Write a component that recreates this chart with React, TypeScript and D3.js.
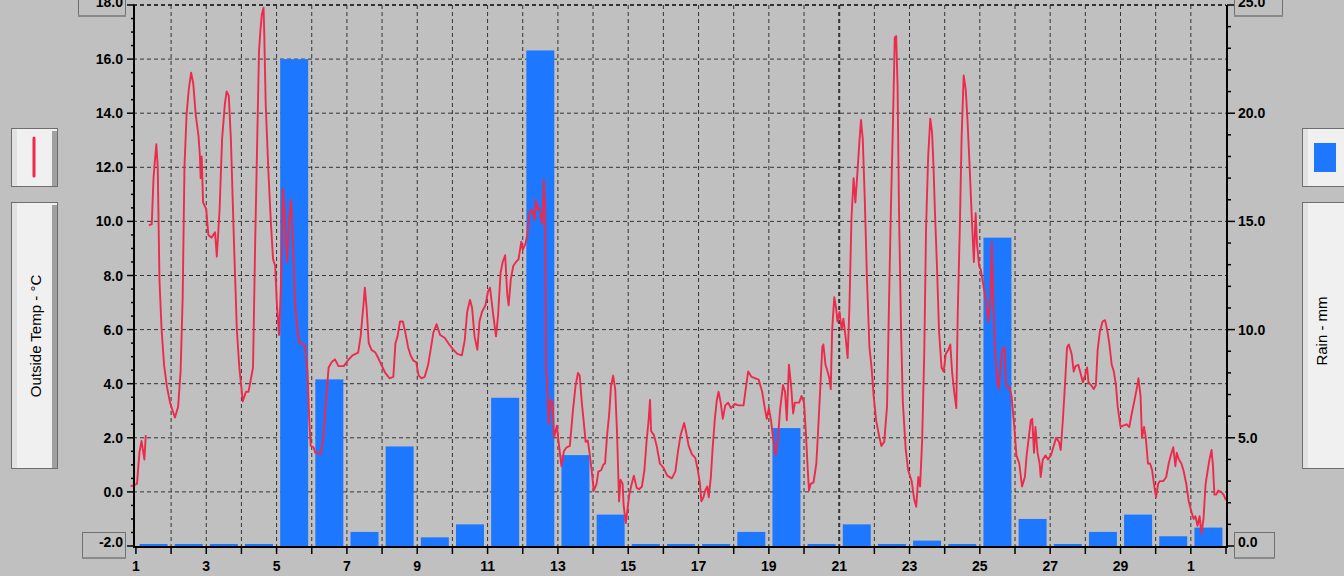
import React from "react";
import * as d3 from "d3";

// outside temperature, [day of November (fractional), °C]; null = gap in the log
const TEMP: [number, number | null][] = [
  [0.85, 0.2], [1.03, 0.3], [1.1, 1.46], [1.16, 1.88], [1.24, 1.2], [1.28, 2.1], [1.33, null],
  [1.37, 9.85], [1.45, 9.9], [1.5, 11.6], [1.54, 12.25], [1.58, 12.85], [1.62, 12.0], [1.67, 7.8],
  [1.73, 6.0], [1.8, 4.7], [1.88, 3.9], [1.97, 3.3], [2.07, 2.9], [2.11, 2.75], [2.2, 3.15],
  [2.27, 4.45], [2.33, 7.2], [2.38, 12.0], [2.44, 13.95], [2.5, 14.85], [2.57, 15.5], [2.63, 15.1],
  [2.7, 13.95], [2.78, 13.15], [2.82, 12.4], [2.84, 11.6], [2.87, 12.4], [2.91, 10.7], [3.0, 10.45],
  [3.06, 9.5], [3.15, 9.4], [3.25, 9.6], [3.3, 8.7], [3.38, 10.45], [3.45, 13.05], [3.53, 14.35],
  [3.58, 14.8], [3.64, 14.65], [3.7, 13.05], [3.79, 9.15], [3.87, 6.0], [3.94, 4.6], [4.04, 3.35],
  [4.13, 3.7], [4.2, 3.7], [4.26, 4.1], [4.33, 4.6], [4.39, 9.15], [4.45, 13.05], [4.5, 16.3],
  [4.54, 17.05], [4.58, 17.65], [4.63, 17.9], [4.65, 16.9], [4.69, 14.35], [4.77, 11.75], [4.84, 9.9],
  [4.9, 8.6], [4.96, 8.35], [5.01, 6.9], [5.07, 5.8], [5.13, 7.85], [5.18, 11.2], [5.22, 10.45],
  [5.3, 8.5], [5.35, 9.9], [5.41, 10.8], [5.47, 9.15], [5.52, 7.05], [5.6, 5.9], [5.65, 5.5],
  [5.8, 5.45], [5.88, 4.45], [5.93, 2.65], [5.97, 1.7], [6.05, 1.65], [6.1, 1.45], [6.25, 1.4],
  [6.33, 2.0], [6.4, 3.3], [6.48, 4.6], [6.57, 4.8], [6.66, 4.9], [6.76, 4.65], [6.91, 4.65],
  [7.02, 4.85], [7.16, 5.05], [7.32, 5.15], [7.39, 5.75], [7.47, 6.9], [7.51, 7.55], [7.56, 6.8],
  [7.62, 5.5], [7.7, 5.25], [7.81, 5.15], [7.89, 4.95], [7.98, 4.7], [8.09, 4.4], [8.21, 4.2],
  [8.32, 4.25], [8.38, 5.5], [8.44, 5.75], [8.51, 6.3], [8.59, 6.3], [8.66, 5.9], [8.74, 5.35],
  [8.81, 5.05], [8.89, 4.85], [8.97, 4.8], [9.04, 4.3], [9.12, 4.2], [9.21, 4.25], [9.31, 4.7],
  [9.38, 5.25], [9.46, 5.9], [9.55, 6.2], [9.65, 5.8], [9.78, 5.7], [9.91, 5.45], [10.03, 5.25],
  [10.14, 5.1], [10.27, 5.05], [10.35, 5.6], [10.42, 6.65], [10.5, 7.1], [10.56, 6.8], [10.63, 5.75],
  [10.71, 5.25], [10.77, 6.3], [10.84, 6.65], [10.94, 6.9], [11.01, 7.4], [11.07, 7.55], [11.16, 6.55],
  [11.24, 5.75], [11.3, 6.55], [11.37, 8.1], [11.43, 8.5], [11.5, 8.75], [11.56, 7.3], [11.6, 6.9],
  [11.66, 7.85], [11.73, 8.35], [11.81, 8.5], [11.88, 8.6], [11.96, 9.25], [12.0, 8.95], [12.07, 9.15],
  [12.13, 9.5], [12.19, 10.3], [12.26, 10.45], [12.34, 10.05], [12.37, 10.8], [12.43, 10.45],
  [12.47, 10.5], [12.53, 10.05], [12.56, 9.9], [12.6, 11.55], [12.64, 10.45], [12.66, 4.6],
  [12.7, 3.9], [12.74, 2.5], [12.79, 3.4], [12.85, 3.3], [12.89, 2.0], [12.97, 2.45], [13.02, 1.85],
  [13.1, 0.95], [13.17, 1.5], [13.25, 1.65], [13.34, 1.7], [13.42, 2.9], [13.5, 3.9], [13.57, 4.4],
  [13.62, 4.3], [13.68, 3.3], [13.73, 2.65], [13.79, 1.85], [13.85, 1.9], [13.9, 1.45], [13.96, 0.8],
  [14.02, 0.05], [14.1, 0.3], [14.15, 0.75], [14.23, 0.8], [14.29, 1.0], [14.34, 1.05], [14.4, 2.1],
  [14.46, 2.9], [14.51, 3.9], [14.57, 4.3], [14.63, 3.8], [14.68, 2.25], [14.74, -0.35], [14.78, 0.45],
  [14.84, 0.3], [14.87, -0.5], [14.93, -1.15], [14.97, -0.75], [15.03, -0.1], [15.1, 0.3], [15.16, 0.6],
  [15.24, 0.15], [15.31, 0.1], [15.39, 0.2], [15.46, 0.8], [15.52, 1.85], [15.58, 2.65], [15.62, 3.4],
  [15.65, 2.25], [15.73, 2.1], [15.81, 1.7], [15.9, 1.05], [16.0, 0.9], [16.11, 0.6], [16.24, 0.5],
  [16.34, 0.75], [16.41, 1.45], [16.49, 2.1], [16.59, 2.55], [16.64, 2.25], [16.72, 1.7], [16.81, 1.4],
  [16.91, 1.25], [16.98, 0.8], [17.04, 0.3], [17.08, -0.35], [17.14, -0.2], [17.19, 0.05], [17.25, 0.2],
  [17.29, -0.2], [17.35, 0.55], [17.4, 1.6], [17.46, 2.65], [17.52, 3.4], [17.57, 3.7], [17.63, 3.3],
  [17.69, 2.7], [17.76, 3.2], [17.84, 3.3], [17.92, 3.1], [18.03, 3.25], [18.14, 3.2], [18.28, 3.2],
  [18.33, 3.7], [18.41, 4.45], [18.51, 4.25], [18.62, 4.2], [18.71, 4.15], [18.81, 3.7], [18.89, 3.05],
  [18.94, 2.7], [19.0, 3.1], [19.06, 2.65], [19.11, 2.1], [19.19, 1.35], [19.25, 1.85], [19.32, 3.05],
  [19.4, 3.95], [19.46, 3.7], [19.51, 2.65], [19.57, 4.7], [19.63, 3.95], [19.69, 2.9], [19.74, 3.3],
  [19.86, 3.3], [19.93, 3.55], [20.0, 3.3], [20.06, 2.0], [20.1, 0.95], [20.14, 0.05], [20.19, 0.3],
  [20.27, 0.35], [20.35, 1.05], [20.4, 2.25], [20.46, 3.8], [20.52, 5.35], [20.55, 5.45], [20.61, 4.7],
  [20.67, 4.45], [20.72, 4.2], [20.76, 3.8], [20.8, 6.0], [20.86, 7.2], [20.91, 6.8], [20.95, 6.3],
  [21.01, 6.65], [21.07, 6.0], [21.12, 6.4], [21.18, 5.75], [21.24, 4.95], [21.29, 6.8], [21.35, 10.15],
  [21.41, 11.6], [21.46, 10.7], [21.52, 11.85], [21.58, 13.05], [21.62, 13.75], [21.67, 13.05],
  [21.73, 10.7], [21.79, 7.85], [21.86, 5.35], [21.92, 4.6], [21.98, 3.55], [22.05, 2.65], [22.13, 2.1],
  [22.2, 1.7], [22.28, 1.85], [22.36, 3.15], [22.41, 6.55], [22.47, 10.45], [22.53, 13.7], [22.58, 16.8],
  [22.62, 16.85], [22.66, 15.0], [22.7, 10.45], [22.76, 5.9], [22.81, 3.3], [22.89, 1.6], [22.96, 0.8],
  [23.06, 0.4], [23.13, -0.25], [23.19, -0.55], [23.25, 0.55], [23.3, 0.2], [23.36, 1.95], [23.42, 5.2],
  [23.47, 9.75], [23.53, 12.4], [23.59, 13.8], [23.64, 13.3], [23.68, 12.1], [23.72, 10.45], [23.78, 8.35],
  [23.84, 5.9], [23.91, 4.6], [23.97, 4.45], [24.03, 5.1], [24.1, 5.25], [24.16, 5.45], [24.21, 4.45],
  [24.27, 3.7], [24.33, 3.1], [24.37, 6.55], [24.43, 9.75], [24.48, 13.05], [24.54, 15.4], [24.6, 14.85],
  [24.65, 13.7], [24.71, 12.0], [24.77, 10.15], [24.83, 8.5], [24.88, 10.3], [24.92, 9.15], [24.98, 8.35],
  [25.03, 8.2], [25.11, 7.55], [25.18, 7.05], [25.24, 6.3], [25.3, 7.05], [25.34, 9.25], [25.37, 7.55],
  [25.43, 5.25], [25.49, 4.2], [25.53, 3.8], [25.58, 4.45], [25.64, 5.25], [25.7, 5.35], [25.75, 3.9],
  [25.83, 3.9], [25.9, 3.55], [25.98, 2.4], [26.04, 1.35], [26.12, 1.05], [26.2, 0.2], [26.28, 0.55],
  [26.33, 1.35], [26.39, 2.0], [26.45, 2.65], [26.49, 2.7], [26.54, 1.45], [26.58, 2.4], [26.64, 1.45],
  [26.7, 1.05], [26.73, 0.55], [26.79, 1.2], [26.87, 1.35], [26.94, 1.2], [27.02, 1.35], [27.1, 1.7],
  [27.17, 2.0], [27.25, 1.85], [27.3, 1.55], [27.36, 2.65], [27.42, 3.95], [27.48, 5.35], [27.53, 5.45],
  [27.61, 5.1], [27.67, 4.45], [27.72, 4.65], [27.8, 4.7], [27.88, 4.3], [27.93, 4.05], [27.99, 4.3],
  [28.05, 4.6], [28.09, 4.05], [28.16, 3.95], [28.24, 3.8], [28.3, 3.95], [28.35, 5.25], [28.41, 5.9],
  [28.49, 6.3], [28.56, 6.35], [28.62, 6.0], [28.68, 5.5], [28.75, 4.7], [28.81, 4.45], [28.87, 3.95],
  [28.92, 3.15], [29.0, 2.4], [29.08, 2.45], [29.17, 2.5], [29.25, 2.4], [29.32, 2.9], [29.4, 3.4],
  [29.48, 3.95], [29.51, 4.2], [29.57, 3.55], [29.61, 2.0], [29.67, 2.4], [29.72, 2.0], [29.78, 1.05],
  [29.84, 1.05], [29.9, 0.8], [29.95, 0.3], [30.01, -0.2], [30.07, 0.3], [30.12, 0.4], [30.22, 0.4],
  [30.3, 0.55], [30.37, 1.05], [30.43, 1.35], [30.5, 1.65], [30.56, 0.95], [30.6, 1.45], [30.66, 1.2],
  [30.73, 1.05], [30.79, 0.8], [30.87, 0.3], [30.94, -0.35], [31.02, -0.75], [31.08, -1.0], [31.13, -0.9],
  [31.19, -1.25], [31.25, -0.9], [31.3, -1.55], [31.36, -1.0], [31.42, 0.3], [31.48, 0.8], [31.53, 1.2],
  [31.59, 1.55], [31.63, 0.95], [31.67, -0.1], [31.72, -0.1], [31.78, 0.05], [31.86, 0.0], [31.93, -0.1],
  [32.0, -0.3],
];

// daily rain in mm, Nov 1 .. Dec 1
const RAIN_MM = [
  0, 0, 0, 0, 22.5, 7.7, 0.65, 4.6, 0.4, 1.0, 6.85, 22.9, 4.2, 1.45, 0, 0, 0, 0.65, 5.45, 0,
  1.0, 0, 0.25, 0, 14.25, 1.25, 0, 0.65, 1.45, 0.45, 0.85,
];

const TEMP_TICKS = [-2, 0, 2, 4, 6, 8, 10, 12, 14, 16, 18];
const RAIN_TICKS = [0, 5, 10, 15, 20, 25];

const W = 1344;
const H = 576;
const BG = "#c0c0c0";
const RED = "#ee2a4b";
const BLUE = "#1e78ff";
const FONT = "'Liberation Sans', Arial, sans-serif";

const dayToDate = (d: number) => new Date(Date.UTC(2015, 10, 1) + (d - 1) * 864e5);

const Panel = ({ x, y, w, h }: { x: number; y: number; w: number; h: number }) => (
  <g>
    <rect x={x + 0.5} y={y + 0.5} width={w} height={h} fill="#f0f0f0" stroke="#6e6e6e" />
    <rect x={x + 1} y={y + 1} width={5} height={h - 1} fill="#e2e2e2" />
    <rect x={x + w - 5} y={y + 3} width={5} height={h - 3} fill="#a0a0a0" />
  </g>
);

const ValueBox = ({ x, y, w, h }: { x: number; y: number; w: number; h: number }) => (
  <g>
    <rect x={x + 0.5} y={y + 0.5} width={w} height={h} fill={BG} stroke="#707070" />
    <line x1={x} x2={x + w + 1} y1={y + h + 1} y2={y + h + 1} stroke="#8a8a8a" strokeWidth={2} />
  </g>
);

export default function App() {
  const x0 = 133, x1 = 1226, y0 = 5, y1 = 546;

  const x = d3
    .scaleUtc()
    .domain([new Date(Date.UTC(2015, 9, 31, 22)), new Date(Date.UTC(2015, 11, 2))])
    .range([x0, x1]);
  const yT = d3.scaleLinear().domain([-2, 18]).range([y1, y0]);
  const yR = d3.scaleLinear().domain([0, 25]).range([y1, y0]);

  const days = d3.utcDay.range(new Date(Date.UTC(2015, 10, 1)), new Date(Date.UTC(2015, 11, 3)));
  const fmt = d3.utcFormat("%-d");

  const line = d3
    .line<[number, number | null]>()
    .defined((d) => d[1] !== null)
    .x((d) => x(dayToDate(d[0])))
    .y((d) => yT(d[1] as number));

  const tempMinor = d3.range(-2, 18.01, 0.5);
  const rainMinor = d3.range(0, 25.01, 1);
  const gridY = d3.range(0, 10).map((i) => y0 + ((y1 - y0) * i) / 10);

  const labelStyle = { fontFamily: FONT, fontWeight: 700, fontSize: 14, fill: "#000" } as const;

  return (
    <svg width={W} height={H} style={{ position: "fixed", left: 0, top: 0, background: BG }}>
      <rect width={W} height={H} fill={BG} />

      {/* grid */}
      {gridY.map((gy, i) => (
        <line key={"gy" + i} x1={x0} x2={x1} y1={gy} y2={gy} stroke="#333" strokeDasharray="4,3"
          strokeWidth={i === 0 ? 2 : 1} />
      ))}
      {days.slice(1, -1).map((d, i) => (
        <line key={"gx" + i} x1={x(d)} x2={x(d)} y1={y0} y2={y1} stroke="#333" strokeDasharray="4,3"
          strokeWidth={d.getUTCDate() === 21 && d.getUTCMonth() === 10 ? 2 : 1} />
      ))}

      {/* rain bars */}
      {RAIN_MM.map((v, i) => {
        const noon = x(dayToDate(i + 1.5));
        const top = Math.min(yR(v), y1 - 2);
        return <rect key={"b" + i} x={noon - 14} y={top} width={28} height={y1 - top} fill={BLUE} />;
      })}

      {/* temperature */}
      <path d={line(TEMP) || ""} fill="none" stroke={RED} strokeWidth={1.9} strokeLinejoin="round" />

      {/* axes */}
      <line x1={x0 + 1} x2={x0 + 1} y1={y0} y2={y1 + 1} stroke="#000" strokeWidth={2} />
      <line x1={x1 + 1} x2={x1 + 1} y1={y0} y2={y1 + 1} stroke="#000" strokeWidth={2} />
      <line x1={x0} x2={x1 + 2} y1={y1 + 1} y2={y1 + 1} stroke="#000" strokeWidth={2} />

      {tempMinor.map((t, i) => {
        const major = Math.abs(t % 2) < 1e-6;
        return <line key={"tt" + i} x1={x0 + 1} x2={x0 + 1 - (major ? 7 : 3)} y1={yT(t)} y2={yT(t)}
          stroke="#000" strokeWidth={1.5} />;
      })}
      {rainMinor.map((r, i) => {
        const major = r % 5 === 0;
        return <line key={"rt" + i} x1={x1 + 1} x2={x1 + 1 + (major ? 8 : 4)} y1={yR(r)} y2={yR(r)}
          stroke="#000" strokeWidth={1.5} />;
      })}
      {days.map((d, i) => (
        <line key={"xt" + i} x1={x(d)} x2={x(d)} y1={y1 + 1} y2={y1 + 8} stroke="#000" strokeWidth={1.5} />
      ))}
      {days.filter((_, i) => i % 2 === 0).map((d, i) => (
        <text key={"xl" + i} x={x(d)} y={571} textAnchor="middle" {...labelStyle}>{fmt(d)}</text>
      ))}

      {/* min / max edit boxes */}
      <ValueBox x={78} y={-10} w={47} h={25} />
      <ValueBox x={82} y={532} w={43} h={25} />
      <ValueBox x={1234} y={-10} w={48} h={25} />
      <ValueBox x={1234} y={532} w={40} h={25} />

      {TEMP_TICKS.map((t) => {
        const ty = t === 18 ? 2 : t === -2 ? 542 : yT(t);
        return <text key={"tl" + t} x={123} y={ty} textAnchor="end" dominantBaseline="central"
          {...labelStyle}>{t.toFixed(1)}</text>;
      })}
      {RAIN_TICKS.map((r) => {
        const ry = r === 25 ? 2 : r === 0 ? 542 : yR(r);
        return <text key={"rl" + r} x={1238} y={ry} textAnchor="start" dominantBaseline="central"
          {...labelStyle}>{r.toFixed(1)}</text>;
      })}

      {/* legend panels */}
      <Panel x={11} y={128} w={46} h={58} />
      <line x1={34} x2={34} y1={138} y2={176} stroke={RED} strokeWidth={3} strokeLinecap="round" />
      <Panel x={11} y={202} w={46} h={266} />
      <text transform="translate(35,336) rotate(-90)" textAnchor="middle" dominantBaseline="central"
        fontFamily={FONT} fontSize={15} fill="#000">Outside Temp - °C</text>

      <Panel x={1302} y={128} w={60} h={58} />
      <rect x={1314} y={143} width={22} height={29} fill={BLUE} />
      <Panel x={1302} y={202} w={60} h={266} />
      <text transform="translate(1321,331) rotate(-90)" textAnchor="middle" dominantBaseline="central"
        fontFamily={FONT} fontSize={15} fill="#000">Rain - mm</text>
    </svg>
  );
}
